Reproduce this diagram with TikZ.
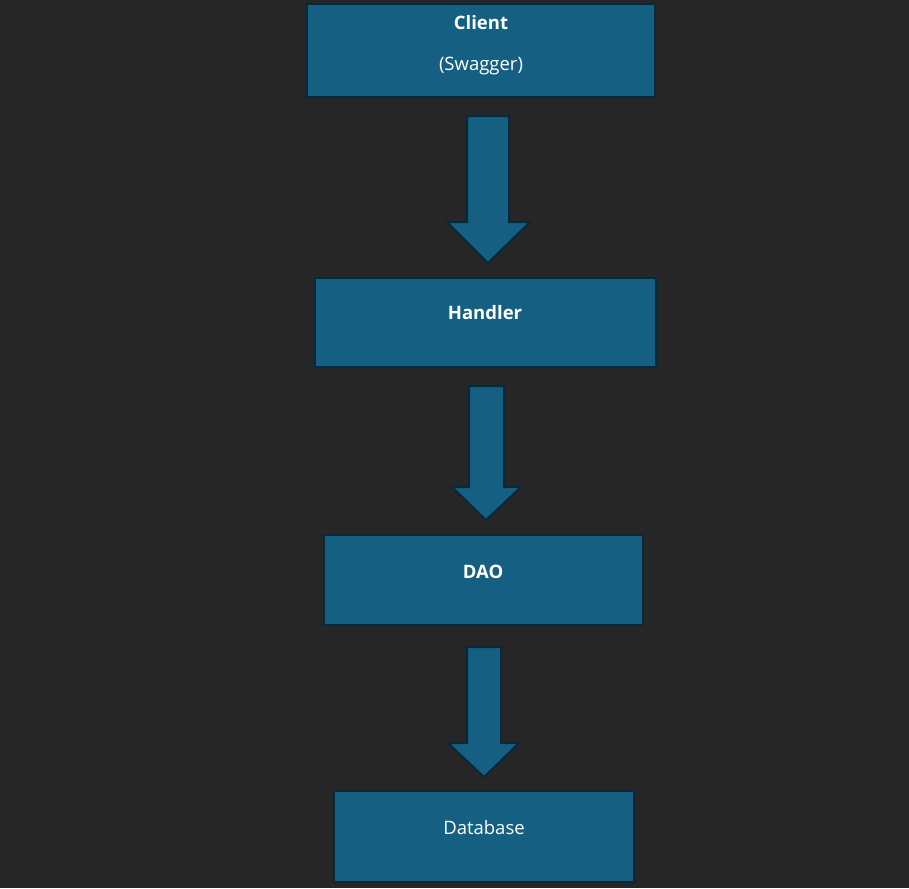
\documentclass[tikz,border=0pt]{standalone}
\usepackage{fontspec}
\setmainfont{Open Sans}
\definecolor{bg}{HTML}{262626}
\definecolor{boxfill}{HTML}{156082}
\definecolor{boxline}{HTML}{09293A}
\begin{document}
\begin{tikzpicture}[x=1pt,y=-1pt,
  box/.style={draw=boxline,fill=boxfill,line width=2pt,inner sep=0pt},
  lbl/.style={text=white,font=\fontsize{18.5}{21}\selectfont,inner sep=0pt,anchor=center},
  blbl/.style={lbl,font=\fontsize{18.5}{21}\selectfont\bfseries},
  arr/.style={draw=boxline,fill=boxfill,line width=2pt,line join=miter}]
\fill[bg] (0,0) rectangle (909,888);
\useasboundingbox (0,0) rectangle (909,888);
% boxes
\node[box,minimum width=348pt,minimum height=93pt] (clientbox) at (481,50.5) {};
\node[blbl] (client) at (481,23) {Client};
\node[lbl] (swagger) at (481,66) {(Swagger)};
\node[box,minimum width=341pt,minimum height=89pt] (handlerbox) at (485.5,322.5) {};
\node[blbl] (handler) at (485,313) {Handler};
\node[box,minimum width=319pt,minimum height=90pt] (daobox) at (483.5,580) {};
\node[blbl] (dao) at (483,572) {DAO};
\node[box,minimum width=300pt,minimum height=91pt] (dbbox) at (484,836.5) {};
\node[lbl] (db) at (484,828) {Database};
% arrows
\draw[arr] (467,116) -- (509,116) -- (509,222) -- (530,222) -- (488,263) -- (447,222) -- (467,222) -- cycle;
\draw[arr] (469,386) -- (504,386) -- (504,487) -- (521,487) -- (486,520) -- (452,487) -- (469,487) -- cycle;
\draw[arr] (467,647) -- (501,647) -- (501,743) -- (519,743) -- (484,777) -- (448,743) -- (467,743) -- cycle;
\end{tikzpicture}
\end{document}
